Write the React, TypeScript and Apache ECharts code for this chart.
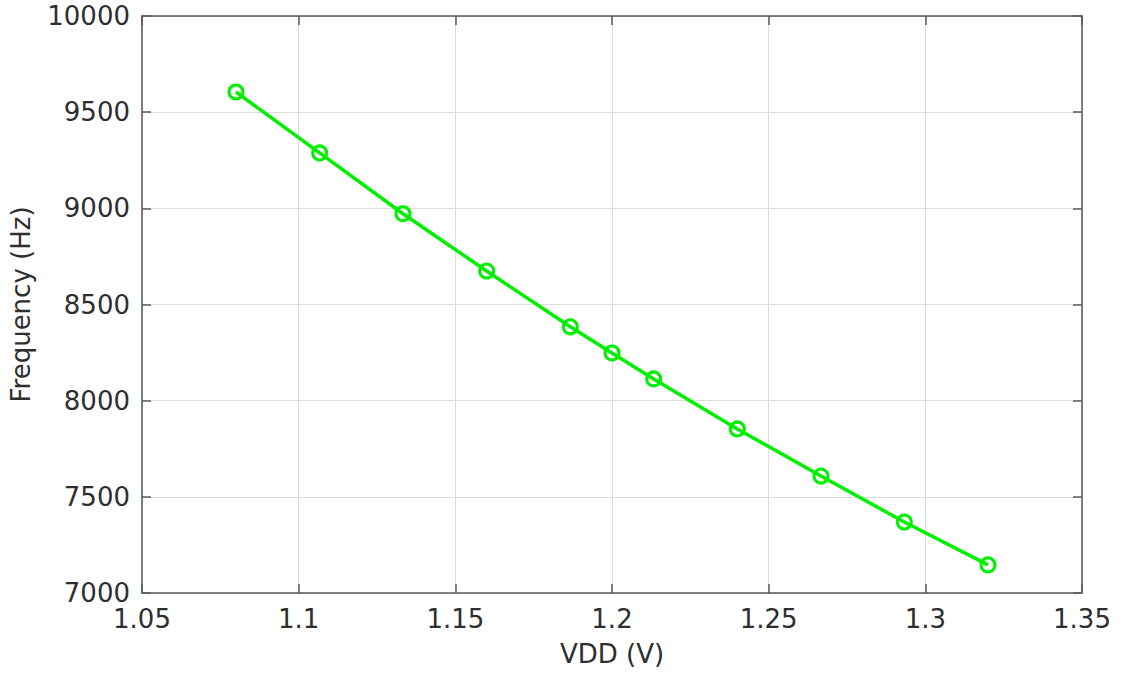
import React, { useEffect, useRef } from "react";
import * as echarts from "echarts";

const vdd = [1.08, 1.1067, 1.1333, 1.16, 1.1867, 1.2, 1.2133, 1.24, 1.2667, 1.2933, 1.32];
const freq = [9605, 9288, 8972, 8674, 8384, 8248, 8113, 7853, 7608, 7369, 7146];

const FONT = "DejaVu Sans";
const TEXT = "#2e2e2e";
const AXIS = "#5a5a5a";
const GREEN = "#00f000";

export default function App() {
  const ref = useRef<HTMLDivElement>(null);
  useEffect(() => {
    document.body.style.margin = "0";
    const chart = echarts.init(ref.current!, null, { renderer: "svg" });
    const data = vdd.map((v, i) => [v, freq[i]]);
    const axisCommon = {
      axisLine: { show: true, onZero: false, lineStyle: { color: AXIS, width: 1.5 } },
      axisTick: { show: true, inside: true, length: 9, lineStyle: { color: AXIS, width: 1.5 } },
      splitLine: { show: true, lineStyle: { color: "#dcdcdc", width: 1 } },
    };
    chart.setOption({
      animation: false,
      backgroundColor: "#ffffff",
      grid: { left: 141, top: 16, width: 941, height: 577, show: false },
      xAxis: [
        {
          type: "value",
          min: 1.05,
          max: 1.35,
          interval: 0.05,
          name: "VDD (V)",
          nameLocation: "middle",
          nameGap: 48,
          nameTextStyle: { color: TEXT, fontFamily: FONT, fontSize: 26 },
          axisLabel: {
            color: TEXT,
            fontFamily: FONT,
            fontSize: 26,
            margin: 13,
            formatter: (v: number) => String(parseFloat(v.toFixed(2))),
          },
          ...axisCommon,
        },
        {
          type: "value",
          position: "top",
          min: 1.05,
          max: 1.35,
          interval: 0.05,
          axisLabel: { show: false },
          axisLine: axisCommon.axisLine,
          axisTick: axisCommon.axisTick,
          splitLine: { show: false },
        },
      ],
      yAxis: [
        {
          type: "value",
          min: 7000,
          max: 10000,
          interval: 500,
          name: "Frequency (Hz)",
          nameLocation: "middle",
          nameGap: 108,
          nameTextStyle: { color: TEXT, fontFamily: FONT, fontSize: 26 },
          axisLabel: {
            color: TEXT,
            fontFamily: FONT,
            fontSize: 26,
            margin: 12,
            formatter: (v: number) => String(v),
          },
          ...axisCommon,
        },
        {
          type: "value",
          position: "right",
          min: 7000,
          max: 10000,
          interval: 500,
          axisLabel: { show: false },
          axisLine: axisCommon.axisLine,
          axisTick: axisCommon.axisTick,
          splitLine: { show: false },
        },
      ],
      series: [
        {
          type: "line",
          data,
          xAxisIndex: 0,
          yAxisIndex: 0,
          symbol: "circle",
          symbolSize: 14,
          showAllSymbol: true,
          lineStyle: { color: GREEN, width: 3.5 },
          itemStyle: { color: "rgba(0,0,0,0)", borderColor: GREEN, borderWidth: 3 },
        },
      ],
    });
    return () => chart.dispose();
  }, []);
  return (
    <div
      ref={ref}
      style={{ position: "fixed", left: 0, top: 0, width: 1125, height: 673 }}
    />
  );
}
